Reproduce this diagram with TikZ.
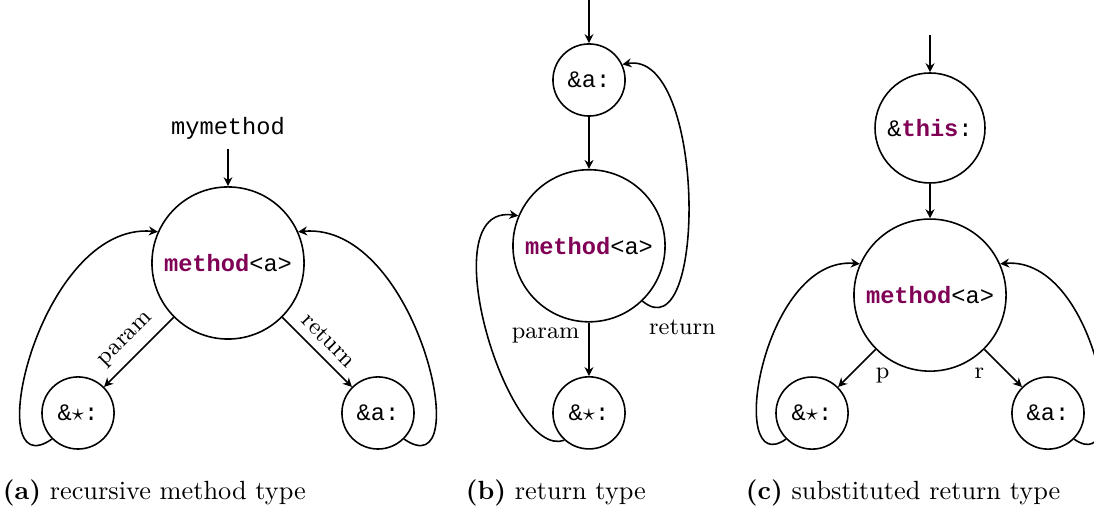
\documentclass[tikz,border=0pt]{standalone}
\usepackage{fontspec}
\setmonofont{Liberation Mono}
\usetikzlibrary{arrows.meta}
\definecolor{keyword}{RGB}{127,0,85}
\newcommand{\kw}[1]{\textcolor{keyword}{\textbf{#1}}}

\begin{document}
\begin{tikzpicture}[x=0.38pt, y=0.38pt, semithick, >={Stealth[length=3.4pt, width=3.4pt, inset=1.1pt]},
    bigstate/.style={draw, circle, minimum size=57.8pt, font=\small\ttfamily},
    smallstate/.style={draw, circle, minimum size=27.4pt, font=\small\ttfamily},
    edgelabel/.style={font=\small},
    subcap/.style={anchor=base west, inner sep=0pt}]
  \useasboundingbox (0,0) rectangle (1094,514);

  % (a) recursive method type
  \node[bigstate] (ma) at (228,251) {\kw{method}<a>};
  \node[font=\small\ttfamily, above of=ma, node distance=51.3pt] (mname) {mymethod};
  \node[smallstate, below left of=ma, node distance=80.6pt] (sa) {\&$\star$:};
  \node[smallstate, below right of=ma, node distance=80.6pt] (ra) {\&a:};

  \draw[->] (mname) -- (ma);
  \draw[->] (ma) -- node[edgelabel, midway, above, sloped] {param} (sa);
  \draw[->] (ma) -- node[edgelabel, midway, above, sloped] {return} (ra);
  \draw[->] (sa.225) .. controls +(215:90) and +(175:120) .. (ma.156);
  \draw[->] (ra.-45) .. controls +(-35:90) and +(5:120) .. (ma.24);

  % (b) return type
  \node[smallstate] (ba) at (589,434) {\&a:};
  \node[bigstate, below of=ba, node distance=63pt] (bm) {\kw{method}<a>};
  \node[smallstate, below of=bm, node distance=63.5pt] (bs) {\&$\star$:};
  \coordinate (bin) at (589,514);

  \draw[->] (bin) -- (ba);
  \draw[->] (ba) -- (bm);
  \draw[->] (bm) -- node[edgelabel, near start, left] {param} (bs);
  \draw[->] (bm.-46) .. controls +(-40:85) and +(10:85) .. node[edgelabel, pos=0.02, below right, xshift=-2.5pt, yshift=-2.5pt] {return} (ba.25);
  \draw[->] (bs.228) .. controls +(200:60) and +(172:90) .. (bm.157);

  % (c) substituted return type
  \node[draw, circle, minimum size=41.8pt, font=\small\ttfamily] (ct) at (930,386) {\&\kw{this}:};
  \node[bigstate, below of=ct, node distance=63.5pt] (cm) {\kw{method}<a>};
  \node[smallstate, below left of=cm, node distance=63.4pt] (cs) {\&$\star$:};
  \node[smallstate, below right of=cm, node distance=63.4pt] (cr) {\&a:};
  \coordinate (cin) at (930,479);

  \draw[->] (cin) -- (ct);
  \draw[->] (ct) -- (cm);
  \draw[->] (cm) -- node[edgelabel, near start, below right] {p} (cs);
  \draw[->] (cm) -- node[edgelabel, near start, below left] {r} (cr);
  \draw[->] (cs.225) .. controls +(215:74) and +(175:98) .. (cm.156);
  \draw[->] (cr.-45) .. controls +(-35:74) and +(5:98) .. (cm.24);

  % captions
  \node[subcap] (capa) at (2,14) {\textbf{(a)} recursive method type};
  \node[subcap] (capb) at (465,14) {\textbf{(b)} return type};
  \node[subcap] (capc) at (745,14) {\textbf{(c)} substituted return type};
\end{tikzpicture}
\end{document}
